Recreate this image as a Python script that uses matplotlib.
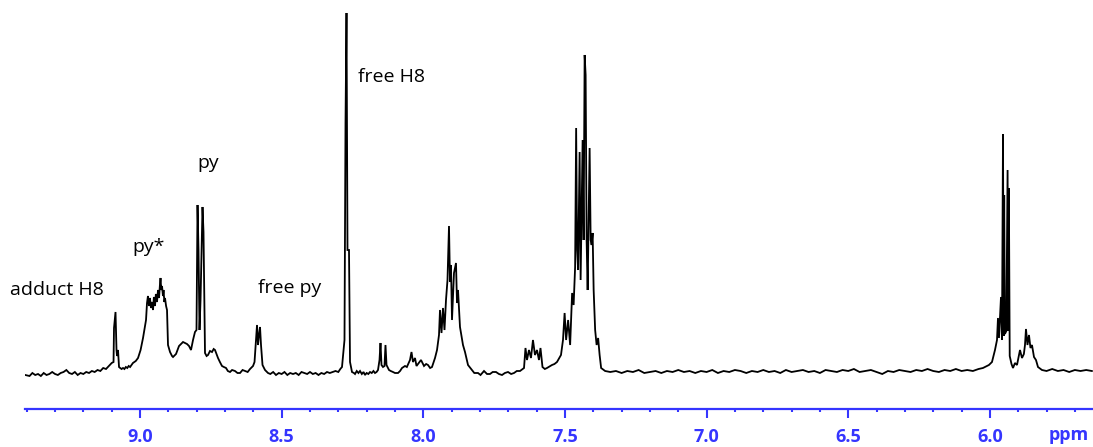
#!/usr/bin/env python3
# -*- coding: utf-8 -*-
"""
1H NMR spectrum, aromatic region (9.4 - 5.6 ppm).
Trace read off the scanned figure, intensity in arbitrary units.
"""
#------------------------------------------------------------------------------#
import matplotlib
matplotlib.use('Agg')
import matplotlib.pyplot as plt
from matplotlib.ticker import MultipleLocator
#------------------------------------------------------------------------------#
# chemical shift (ppm) and intensity of the trace, left to right
shift = [
    9.405, 9.39, 9.38, 9.37, 9.36, 9.35, 9.34, 9.33, 9.32, 9.31, 9.30, 9.29,
    9.28, 9.27, 9.26, 9.25, 9.24, 9.23, 9.22, 9.21, 9.20, 9.19, 9.18, 9.17,
    9.16, 9.15, 9.14, 9.13, 9.12, 9.11, 9.10,
    9.0935, 9.0918, 9.0865, 9.0830, 9.0812, 9.0777, 9.0741,
    9.070, 9.065, 9.060, 9.055, 9.050, 9.045, 9.040, 9.035, 9.030, 9.025,
    9.015, 9.007, 8.998, 8.9894, 8.9788,
    8.9753, 8.9720, 8.9682, 8.9650, 8.9612, 8.9580, 8.9541, 8.9510, 8.9471,
    8.9440, 8.9400, 8.9365, 8.9329, 8.9295, 8.9276, 8.9250, 8.9223, 8.9190,
    8.9170, 8.9140, 8.9118, 8.9080, 8.9047, 8.9012, 8.8941, 8.8870, 8.8835,
    8.8729, 8.8623, 8.8550, 8.8482, 8.8410, 8.8341, 8.8270, 8.8200, 8.8129,
    8.8060,
    8.8006, 8.7970, 8.7935, 8.7900, 8.7864, 8.7794, 8.7759, 8.7706,
    8.7650, 8.7600, 8.7530, 8.7459, 8.7400, 8.7353, 8.7300, 8.7247, 8.7180,
    8.7106, 8.7040, 8.6964, 8.690, 8.6823, 8.675, 8.6647, 8.656, 8.6470,
    8.638, 8.6294, 8.620, 8.6117, 8.6011, 8.5958,
    8.5929, 8.5870, 8.5835, 8.5800, 8.5764, 8.5729, 8.5676, 8.5588, 8.5482,
    8.54, 8.53, 8.52, 8.51, 8.50, 8.49, 8.48, 8.47, 8.46, 8.45, 8.44, 8.43,
    8.42, 8.41, 8.40, 8.39, 8.38, 8.37, 8.36, 8.35, 8.34, 8.33, 8.32, 8.31,
    8.30, 8.293,
    8.2870, 8.2782, 8.2746, 8.2711, 8.2676, 8.2623, 8.2587, 8.2517,
    8.245, 8.2411, 8.235, 8.229, 8.2234, 8.217, 8.211, 8.2058, 8.200, 8.194,
    8.1881, 8.182, 8.176, 8.1705, 8.165, 8.1599,
    8.1546, 8.1511, 8.1476, 8.1423, 8.1370, 8.1335, 8.1299, 8.1211,
    8.115, 8.1070, 8.100, 8.0893, 8.082, 8.0752, 8.0646, 8.058, 8.0470,
    8.0417, 8.0364, 8.0293, 8.0240, 8.0187, 8.0081, 7.9975, 7.990, 7.9834,
    7.976, 7.9693, 7.9587, 7.9516, 7.9446,
    7.9411, 7.9358, 7.9305, 7.9252, 7.9199, 7.9146, 7.9093, 7.9058, 7.9023,
    7.8987, 7.8917, 7.8846, 7.8811, 7.8775, 7.8705, 7.8599, 7.8528, 7.8422,
    7.8281,
    7.820, 7.8069, 7.798, 7.7857, 7.775, 7.7646, 7.755, 7.7434, 7.733,
    7.7222, 7.712, 7.7010, 7.690, 7.6798, 7.670, 7.6586, 7.6445,
    7.6393, 7.6340, 7.6270, 7.6199, 7.6129, 7.6058, 7.5987, 7.5917, 7.5864,
    7.5793, 7.5710, 7.5634, 7.5458, 7.5370, 7.5281, 7.5140, 7.5069,
    7.5012, 7.4959, 7.4888, 7.4817, 7.4747, 7.4694, 7.4641, 7.4605, 7.4570,
    7.4535, 7.4482, 7.4447, 7.4376, 7.4341, 7.4305, 7.4270, 7.4235, 7.4199,
    7.4129, 7.4093, 7.4058, 7.4023, 7.3987, 7.3934, 7.3882, 7.3829, 7.3776,
    7.3723, 7.3582,
    7.34, 7.32, 7.30, 7.28, 7.26, 7.24, 7.22, 7.20, 7.18, 7.16, 7.14, 7.12,
    7.10, 7.08, 7.06, 7.04, 7.02, 7.00, 6.98, 6.96, 6.94, 6.92, 6.90, 6.88,
    6.86, 6.84, 6.82, 6.80, 6.78, 6.76, 6.74, 6.72, 6.70, 6.68, 6.66, 6.64,
    6.62, 6.60, 6.58, 6.56, 6.54, 6.52, 6.50, 6.48, 6.46, 6.44, 6.42, 6.40,
    6.38, 6.36, 6.34, 6.32, 6.30, 6.28, 6.26, 6.24, 6.22, 6.20, 6.18, 6.16,
    6.14, 6.12, 6.10, 6.08, 6.06, 6.04, 6.0245,
    6.0034, 5.9926, 5.9820, 5.9749, 5.9714, 5.9679, 5.9608, 5.9573, 5.9537,
    5.9515, 5.9495, 5.9470, 5.9420, 5.9375, 5.9355, 5.9330, 5.9300, 5.9237,
    5.9184, 5.9114, 5.9043, 5.8937, 5.8867, 5.8800, 5.8761, 5.8726, 5.8673,
    5.8620, 5.8567, 5.8514, 5.8443, 5.8373, 5.8302, 5.8161,
    5.80, 5.78, 5.76, 5.74, 5.72, 5.70, 5.68, 5.66, 5.64,
]
intensity = [
    1, 0, 3, 1, 2, 0, 3, 1, 2, 4, 2, 1,
    3, 4, 6, 3, 2, 4, 1, 3, 2, 4, 3, 5,
    4, 6, 5, 8, 7, 10, 13,
    14, 48, 64, 26, 20, 26, 9,
    8, 7, 8, 7, 9, 8, 10, 9, 11, 13,
    15, 18, 26, 38, 56,
    73, 80, 70, 78, 68, 74, 66, 79, 70,
    82, 74, 86, 78, 92, 98, 86, 90, 80,
    86, 74, 78, 70, 66, 31, 24, 20, 19,
    22, 30, 32, 34, 33, 32, 30, 26, 36,
    44,
    46, 171, 126, 46, 76, 169, 144, 23,
    20, 21, 25, 24, 27, 26, 22, 18, 14,
    10, 9, 8, 5, 4, 6, 5, 3, 3,
    6, 5, 4, 7, 10, 14,
    26, 51, 31, 41, 49, 31, 11, 6, 3,
    2, 4, 1, 3, 2, 4, 1, 3, 2, 3, 1, 4,
    3, 2, 4, 2, 3, 1, 3, 2, 4, 3, 4, 5,
    4, 7,
    9, 36, 253, 363, 126, 126, 14, 4,
    3, 2, 5, 3, 5, 2, 4, 1, 3, 2,
    4, 3, 5, 3, 4, 6,
    16, 33, 11, 9, 10, 31, 11, 6,
    5, 4, 3, 3, 5, 8, 10, 9, 16,
    24, 14, 18, 10, 12, 16, 10, 12, 11,
    8, 9, 18, 26, 41,
    66, 43, 68, 46, 76, 96, 150, 94, 111,
    56, 103, 113, 73, 86, 49, 31, 24, 11,
    6,
    3, 3, 1, 5, 2, 2, 4, 4, 2,
    1, 3, 4, 2, 3, 5, 5, 8,
    28, 16, 26, 18, 36, 21, 26, 16, 28,
    9, 7, 8, 11, 12, 14, 21, 36,
    63, 36, 56, 31, 83, 71, 109, 248, 126,
    106, 224, 96, 236, 136, 321, 301, 136, 86,
    228, 136, 131, 143, 86, 46, 31, 38, 21,
    8, 5,
    4, 5, 3, 5, 4, 6, 3, 4, 5, 3, 5, 4,
    6, 4, 5, 3, 5, 4, 6, 3, 5, 4, 6, 5,
    3, 5, 4, 6, 4, 5, 3, 6, 4, 5, 6, 4,
    5, 3, 6, 5, 4, 6, 5, 7, 4, 5, 6, 4,
    2, 5, 4, 6, 5, 4, 6, 5, 7, 5, 4, 6,
    5, 7, 5, 6, 5, 7, 8,
    11, 14, 26, 36, 58, 38, 79, 36, 242,
    40, 181, 42, 45, 206, 45, 188, 20, 12,
    8, 13, 11, 26, 18, 22, 31, 47, 31,
    41, 28, 31, 19, 16, 9, 6,
    5, 7, 5, 6, 4, 6, 5, 6, 5,
]

peak_labels = ['adduct H8', 'py*', 'py', 'free py', 'free H8']
major_ticks = [9.0, 8.5, 8.0, 7.5, 7.0, 6.5, 6.0]
#------------------------------------------------------------------------------#
def plot_spectrum():
    """Draw the trace, the peak labels and the blue ppm axis."""
    blue = '#3535ff'
    fig = plt.figure(figsize=(10.93, 4.47), dpi=100)
    ax = fig.add_axes([25/1093, 38/447, 1068/1093, 409/447])

    ax.plot(shift, intensity, color='black', lw=1.3, solid_joinstyle='miter')
    ax.set_xlim(9.406, 5.636)
    ax.set_ylim(-33, 376)

    # peak labels (x in ppm, y on the intensity scale, text baseline)
    label_pos = [(9.459, 81), (9.028, 124), (8.799, 208), (8.583, 83), (8.230, 294)]
    for txt, (px, py) in zip(peak_labels, label_pos):
        ax.text(px, py, txt, fontsize=14, family='Open Sans', color='black',
                ha='left', va='baseline')

    for side in ['left', 'top', 'right']:
        ax.spines[side].set_visible(False)
    ax.spines['bottom'].set_color(blue)
    ax.spines['bottom'].set_linewidth(1.6)
    ax.set_yticks([])

    ax.set_xticks(major_ticks)
    ax.set_xticklabels([f'{t:.1f}' for t in major_ticks])
    ax.xaxis.set_minor_locator(MultipleLocator(0.1))
    ax.tick_params(axis='x', which='major', direction='out', length=6.5, width=1.5,
                   color=blue, pad=7.5, labelcolor=blue, labelsize=13)
    ax.tick_params(axis='x', which='minor', direction='out', length=2.5, width=1.5,
                   color=blue)
    for lab in ax.get_xticklabels():
        lab.set_family('Open Sans')
        lab.set_fontweight('bold')

    ax.text(5.721, -0.077, 'ppm', transform=ax.get_xaxis_transform(),
            fontsize=13, family='Open Sans', fontweight='bold', color=blue,
            ha='center', va='baseline')

    fig.savefig('out.png', dpi=100, facecolor='white')
#------------------------------------------------------------------------------#
if __name__ == '__main__':
    plot_spectrum()
